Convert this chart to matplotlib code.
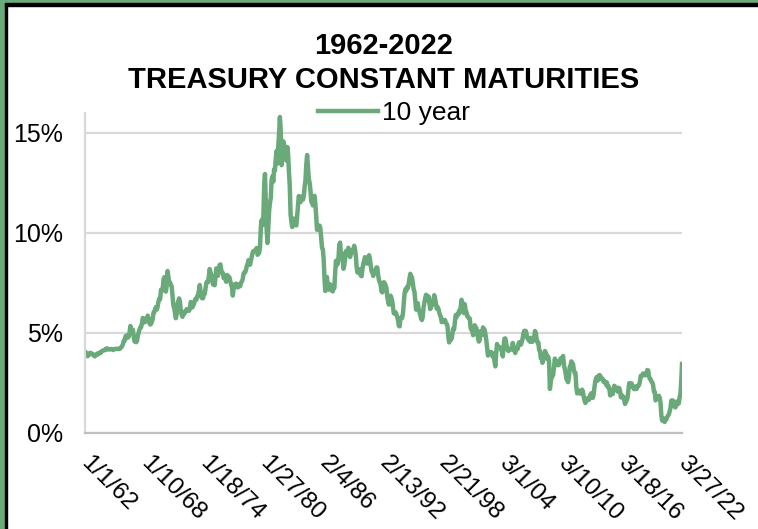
import numpy as np
import pandas as pd
import matplotlib
matplotlib.use("Agg")
from matplotlib import pyplot as plt
import matplotlib.dates as mdates
from matplotlib.patches import Rectangle
from matplotlib.ticker import FixedLocator, FuncFormatter
from matplotlib.transforms import ScaledTranslation

plt.rcParams['font.family'] = ['Liberation Sans', 'DejaVu Sans']

# 10-year constant maturity yield (%), monthly
yields_by_year = {
    1962: [4.08, 4.04, 3.93, 3.84, 3.87, 3.91, 4.01, 3.98, 3.98, 3.93, 3.92, 3.86],
    1963: [3.83, 3.92, 3.93, 3.97, 3.93, 3.99, 4.02, 4.00, 4.08, 4.11, 4.12, 4.13],
    1964: [4.17, 4.15, 4.22, 4.23, 4.20, 4.17, 4.19, 4.19, 4.20, 4.19, 4.15, 4.18],
    1965: [4.19, 4.21, 4.21, 4.20, 4.21, 4.21, 4.20, 4.25, 4.29, 4.35, 4.45, 4.62],
    1966: [4.61, 4.83, 4.87, 4.75, 4.78, 4.81, 5.02, 5.35, 5.18, 5.01, 5.16, 4.84],
    1967: [4.58, 4.63, 4.54, 4.59, 4.85, 5.02, 5.16, 5.28, 5.30, 5.48, 5.75, 5.70],
    1968: [5.53, 5.56, 5.74, 5.64, 5.87, 5.72, 5.50, 5.42, 5.46, 5.58, 5.70, 6.03],
    1969: [6.04, 6.19, 6.30, 6.17, 6.32, 6.57, 6.72, 6.69, 7.16, 7.10, 7.14, 7.65],
    1970: [7.79, 7.24, 7.07, 7.39, 8.10, 7.84, 7.46, 7.53, 7.39, 7.33, 6.84, 6.39],
    1971: [6.24, 6.00, 5.74, 5.93, 6.42, 6.59, 6.73, 6.58, 6.14, 5.93, 5.81, 5.93],
    1972: [5.95, 6.08, 6.07, 6.19, 6.13, 6.11, 6.11, 6.21, 6.55, 6.48, 6.28, 6.36],
    1973: [6.46, 6.64, 6.71, 6.67, 6.85, 6.90, 7.13, 7.40, 7.09, 6.79, 6.73, 6.74],
    1974: [6.99, 6.96, 7.21, 7.51, 7.58, 7.54, 7.81, 8.20, 8.04, 7.90, 7.68, 7.43],
    1975: [7.50, 7.39, 7.73, 8.23, 8.06, 7.86, 8.06, 8.40, 8.43, 8.14, 8.05, 8.00],
    1976: [7.74, 7.79, 7.73, 7.56, 7.90, 7.86, 7.83, 7.77, 7.59, 7.41, 7.29, 6.87],
    1977: [7.21, 7.39, 7.46, 7.37, 7.46, 7.28, 7.33, 7.40, 7.34, 7.52, 7.58, 7.69],
    1978: [7.96, 8.03, 8.04, 8.15, 8.35, 8.46, 8.64, 8.41, 8.42, 8.64, 8.81, 9.01],
    1979: [9.10, 9.10, 9.12, 9.18, 9.25, 8.91, 8.95, 9.03, 9.33, 10.30, 10.65, 10.39],
    1980: [10.80, 12.41, 12.95, 11.47, 10.18, 9.50, 10.25, 11.10, 11.51, 11.75, 12.68, 12.84],
    1981: [12.57, 13.19, 13.12, 13.68, 14.10, 13.47, 14.28, 14.94, 15.80, 15.15, 13.39, 13.72],
    1982: [14.59, 14.43, 13.86, 13.87, 13.62, 14.30, 13.95, 13.06, 12.34, 10.91, 10.55, 10.30],
    1983: [10.46, 10.72, 10.51, 10.40, 10.38, 10.85, 11.38, 11.85, 11.65, 11.54, 11.69, 11.83],
    1984: [11.67, 11.84, 12.32, 12.63, 13.41, 13.90, 13.36, 12.72, 12.52, 12.16, 11.57, 11.50],
    1985: [11.38, 11.51, 11.86, 11.43, 10.85, 10.16, 10.31, 10.33, 10.37, 10.24, 9.78, 9.26],
    1986: [9.19, 8.70, 7.78, 7.10, 7.71, 7.80, 7.30, 7.17, 7.45, 7.43, 7.25, 7.11],
    1987: [7.08, 7.25, 7.25, 8.02, 8.61, 8.40, 8.45, 8.76, 9.42, 9.52, 8.86, 8.99],
    1988: [8.67, 8.21, 8.37, 8.72, 9.09, 8.92, 9.06, 9.26, 8.98, 8.80, 8.96, 9.11],
    1989: [9.09, 9.17, 9.36, 9.18, 8.86, 8.28, 8.02, 8.11, 8.19, 8.01, 7.87, 7.84],
    1990: [8.21, 8.47, 8.59, 8.79, 8.76, 8.48, 8.47, 8.75, 8.89, 8.72, 8.39, 8.08],
    1991: [8.09, 7.85, 8.11, 8.04, 8.07, 8.28, 8.27, 7.90, 7.65, 7.53, 7.42, 7.09],
    1992: [7.03, 7.34, 7.54, 7.48, 7.39, 7.26, 6.84, 6.59, 6.42, 6.59, 6.87, 6.77],
    1993: [6.60, 6.26, 5.98, 5.97, 6.04, 5.96, 5.81, 5.68, 5.36, 5.33, 5.72, 5.77],
    1994: [5.75, 5.97, 6.48, 6.97, 7.18, 7.10, 7.30, 7.24, 7.46, 7.74, 7.96, 7.81],
    1995: [7.78, 7.47, 7.20, 7.06, 6.63, 6.17, 6.28, 6.49, 6.20, 6.04, 5.93, 5.71],
    1996: [5.65, 5.81, 6.27, 6.51, 6.74, 6.91, 6.87, 6.64, 6.83, 6.53, 6.20, 6.30],
    1997: [6.58, 6.42, 6.69, 6.89, 6.71, 6.49, 6.22, 6.30, 6.21, 6.03, 5.88, 5.81],
    1998: [5.54, 5.57, 5.65, 5.64, 5.65, 5.50, 5.46, 5.34, 4.81, 4.53, 4.83, 4.65],
    1999: [4.72, 5.00, 5.23, 5.18, 5.54, 5.90, 5.79, 5.94, 5.92, 6.11, 6.03, 6.28],
    2000: [6.66, 6.52, 6.26, 5.99, 6.44, 6.10, 6.05, 5.83, 5.80, 5.74, 5.72, 5.24],
    2001: [5.16, 5.10, 4.89, 5.14, 5.39, 5.28, 5.24, 4.97, 4.73, 4.57, 4.65, 5.09],
    2002: [5.04, 4.91, 5.28, 5.21, 5.16, 4.93, 4.65, 4.26, 3.87, 3.94, 4.05, 4.03],
    2003: [4.05, 3.90, 3.81, 3.96, 3.57, 3.33, 3.98, 4.45, 4.27, 4.29, 4.30, 4.27],
    2004: [4.15, 4.08, 3.83, 4.35, 4.72, 4.73, 4.50, 4.28, 4.13, 4.10, 4.19, 4.23],
    2005: [4.22, 4.17, 4.50, 4.34, 4.14, 4.00, 4.18, 4.26, 4.20, 4.46, 4.54, 4.47],
    2006: [4.42, 4.57, 4.72, 4.99, 5.11, 5.11, 5.09, 4.88, 4.72, 4.73, 4.60, 4.56],
    2007: [4.76, 4.72, 4.56, 4.69, 4.75, 5.10, 5.00, 4.67, 4.52, 4.53, 4.15, 4.10],
    2008: [3.74, 3.74, 3.51, 3.68, 3.88, 4.10, 4.01, 3.89, 3.69, 3.81, 3.53, 2.20],
    2009: [2.52, 2.87, 2.82, 2.93, 3.29, 3.72, 3.56, 3.59, 3.40, 3.39, 3.40, 3.59],
    2010: [3.73, 3.69, 3.73, 3.85, 3.42, 3.20, 3.01, 2.70, 2.65, 2.54, 2.76, 3.29],
    2011: [3.39, 3.58, 3.41, 3.46, 3.17, 3.00, 3.00, 2.30, 1.98, 2.15, 2.01, 1.98],
    2012: [1.97, 1.97, 2.17, 2.05, 1.80, 1.62, 1.50, 1.68, 1.72, 1.75, 1.65, 1.72],
    2013: [1.91, 1.98, 1.96, 1.76, 1.93, 2.30, 2.58, 2.74, 2.81, 2.62, 2.72, 2.90],
    2014: [2.86, 2.71, 2.72, 2.71, 2.56, 2.60, 2.54, 2.42, 2.53, 2.30, 2.33, 2.21],
    2015: [1.88, 1.98, 2.04, 1.94, 2.20, 2.36, 2.32, 2.17, 2.17, 2.07, 2.26, 2.24],
    2016: [2.09, 1.78, 1.89, 1.81, 1.81, 1.64, 1.45, 1.56, 1.63, 1.76, 2.14, 2.49],
    2017: [2.43, 2.42, 2.48, 2.30, 2.30, 2.19, 2.32, 2.21, 2.20, 2.36, 2.35, 2.40],
    2018: [2.58, 2.86, 2.84, 2.87, 2.98, 2.91, 2.89, 2.89, 3.00, 3.15, 3.12, 2.83],
    2019: [2.71, 2.68, 2.57, 2.53, 2.40, 2.07, 2.06, 1.63, 1.70, 1.71, 1.81, 1.86],
    2020: [1.76, 1.50, 0.87, 0.62, 0.67, 0.73, 0.55, 0.65, 0.68, 0.79, 0.87, 0.93],
    2021: [1.08, 1.26, 1.61, 1.64, 1.62, 1.52, 1.32, 1.28, 1.37, 1.58, 1.56, 1.47],
    2022: [1.76, 1.95, 2.50, 3.45],
}

title_text = "1962-2022\nTREASURY CONSTANT MATURITIES"
series_label = "10 year"
y_ticks = [0, 0.05, 0.10, 0.15]

values = []
for yr in sorted(yields_by_year):
    values.extend(yields_by_year[yr])
values = np.array(values) / 100.0
dates = pd.date_range("1962-01-01", periods=len(values), freq="MS")

green = "#6aa97a"
grid_grey = "#d9d9d9"

fig = plt.figure(figsize=(7.58, 5.29), dpi=100)
ax = fig.add_axes([85 / 758, 1 - 433 / 529, (682 - 85) / 758, (433 - 113) / 529])

line, = ax.plot(dates, values, color=green, lw=3.2, label=series_label, solid_joinstyle="round")

ax.set_ylim(0, 0.16)
ax.set_xlim(dates[0], dates[-1])
ax.yaxis.set_major_locator(FixedLocator(y_ticks))
ax.yaxis.set_major_formatter(FuncFormatter(lambda v, p: "{:.0f}%".format(v * 100)))
ax.grid(axis="y", color=grid_grey, lw=1.6)
ax.set_axisbelow(True)

# date ticks every 2200 days starting 1/1/62
start = pd.Timestamp("1962-01-01")
tick_dates = [start + pd.Timedelta(days=2200 * i) for i in range(11)]
ax.set_xticks([mdates.date2num(d) for d in tick_dates])
ax.set_xticklabels(["{}/{}/{:02d}".format(d.month, d.day, d.year % 100) for d in tick_dates],
                   rotation=-45, ha="left", va="top", rotation_mode="anchor")

ax.tick_params(axis="both", length=0)
ax.tick_params(axis="y", pad=16, labelsize=18)
ax.tick_params(axis="x", pad=14, labelsize=17.5)

shift = ScaledTranslation(0.07, 0.0, fig.dpi_scale_trans)
for lab in ax.get_xticklabels():
    lab.set_transform(lab.get_transform() + shift)

for side in ["top", "right"]:
    ax.spines[side].set_visible(False)
for side in ["left", "bottom"]:
    ax.spines[side].set_color("#bfbfbf")
    ax.spines[side].set_linewidth(1.6)
ax.spines["left"].set_color(grid_grey)

fig.text(383.5 / 758, 1 - 32 / 529, title_text, ha="center", va="top",
         fontsize=21, fontweight="bold", linespacing=1.25)

fig.legend(handles=[line], loc="center", bbox_to_anchor=(394 / 758, 1 - 113 / 529),
           frameon=False, fontsize=19, handlelength=2.3, handletextpad=0.15,
           borderpad=0, borderaxespad=0)

# outer frame: green band plus thin black line (top and left only)
W, H = 758, 529
fig.patches.append(Rectangle((0, 1 - 3.5 / H), 1, 3.5 / H, transform=fig.transFigure,
                             color=green, zorder=0))
fig.patches.append(Rectangle((0, 0), 5 / W, 1, transform=fig.transFigure,
                             color=green, zorder=0))
fig.patches.append(Rectangle((5 / W, 0), 2 / W, 1 - 3.5 / H, transform=fig.transFigure,
                             color="black", zorder=1))
fig.patches.append(Rectangle((5 / W, 1 - 6 / H), 1, 2.5 / H, transform=fig.transFigure,
                             color="black", zorder=1))

fig.savefig("out.png", dpi=100)
